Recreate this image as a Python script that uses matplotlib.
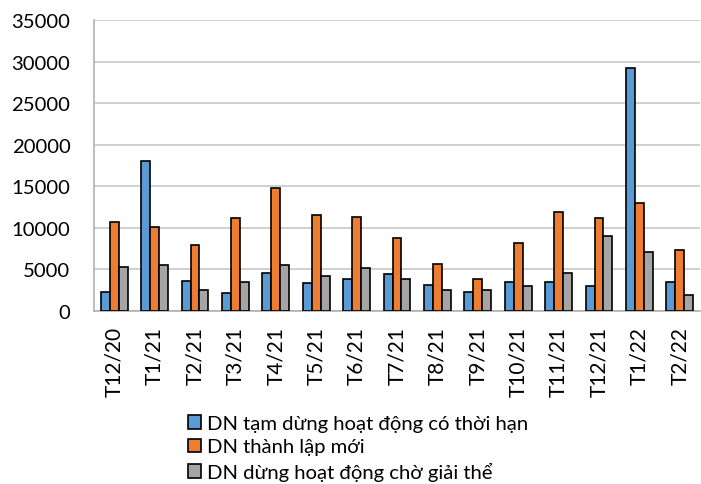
import matplotlib
matplotlib.use("Agg")
import matplotlib.pyplot as plt
import numpy as np

plt.rcParams['font.family'] = ['Lato', 'DejaVu Sans']

categories = ["T12/20", "T1/21", "T2/21", "T3/21", "T4/21", "T5/21", "T6/21", "T7/21",
              "T8/21", "T9/21", "T10/21", "T11/21", "T12/21", "T1/22", "T2/22"]
tam_dung = [2250, 18000, 3550, 2200, 4550, 3400, 3850, 4500, 3100, 2250, 3450, 3500, 3000, 29250, 3500]
thanh_lap = [10650, 10050, 7950, 11150, 14800, 11550, 11300, 8750, 5700, 3900, 8200, 11900, 11200, 12950, 7300]
giai_the = [5350, 5550, 2550, 3450, 5550, 4250, 5200, 3900, 2500, 2500, 3050, 4600, 9000, 7100, 1900]
labels = ["DN tạm dừng hoạt động có thời hạn", "DN thành lập mới", "DN dừng hoạt động chờ giải thể"]
colors = ["#5B9BD5", "#ED7D31", "#A5A5A5"]

fig = plt.figure(figsize=(7.01, 4.85), dpi=100)
ax = fig.add_axes([94/701, 1-312/485, 606/701, 291/485])

x = np.arange(len(categories))
w = 0.22
for i, (vals, lab, c) in enumerate(zip([tam_dung, thanh_lap, giai_the], labels, colors)):
    ax.bar(x + (i-1)*w, vals, width=w, color=c, edgecolor='black', linewidth=1.2, label=lab, zorder=3)

ax.set_xlim(-0.5, len(categories)-0.5)
ax.set_ylim(0, 35000)
ax.set_yticks(np.arange(0, 35001, 5000))
ax.set_xticks(x)
ax.set_xticklabels(categories, rotation=90, fontsize=15)
ax.tick_params(axis='y', labelsize=14.6, length=0, pad=17)
ax.tick_params(axis='x', length=0, pad=11)
ax.grid(axis='y', color='#c8c8c8', linewidth=1.2, zorder=0)
for s in ['top', 'right']:
    ax.spines[s].set_visible(False)
for s in ['left', 'bottom']:
    ax.spines[s].set_color('#b0b0b0')
    ax.spines[s].set_linewidth(1.2)

fig.legend(loc='upper left', bbox_to_anchor=(188/701, 1-416/485), ncol=1, frameon=False,
           fontsize=14.6, handlelength=0.65, handleheight=0.65, handletextpad=0.3,
           labelspacing=0.32, borderpad=0, borderaxespad=0)

fig.savefig("out.png", dpi=100)
